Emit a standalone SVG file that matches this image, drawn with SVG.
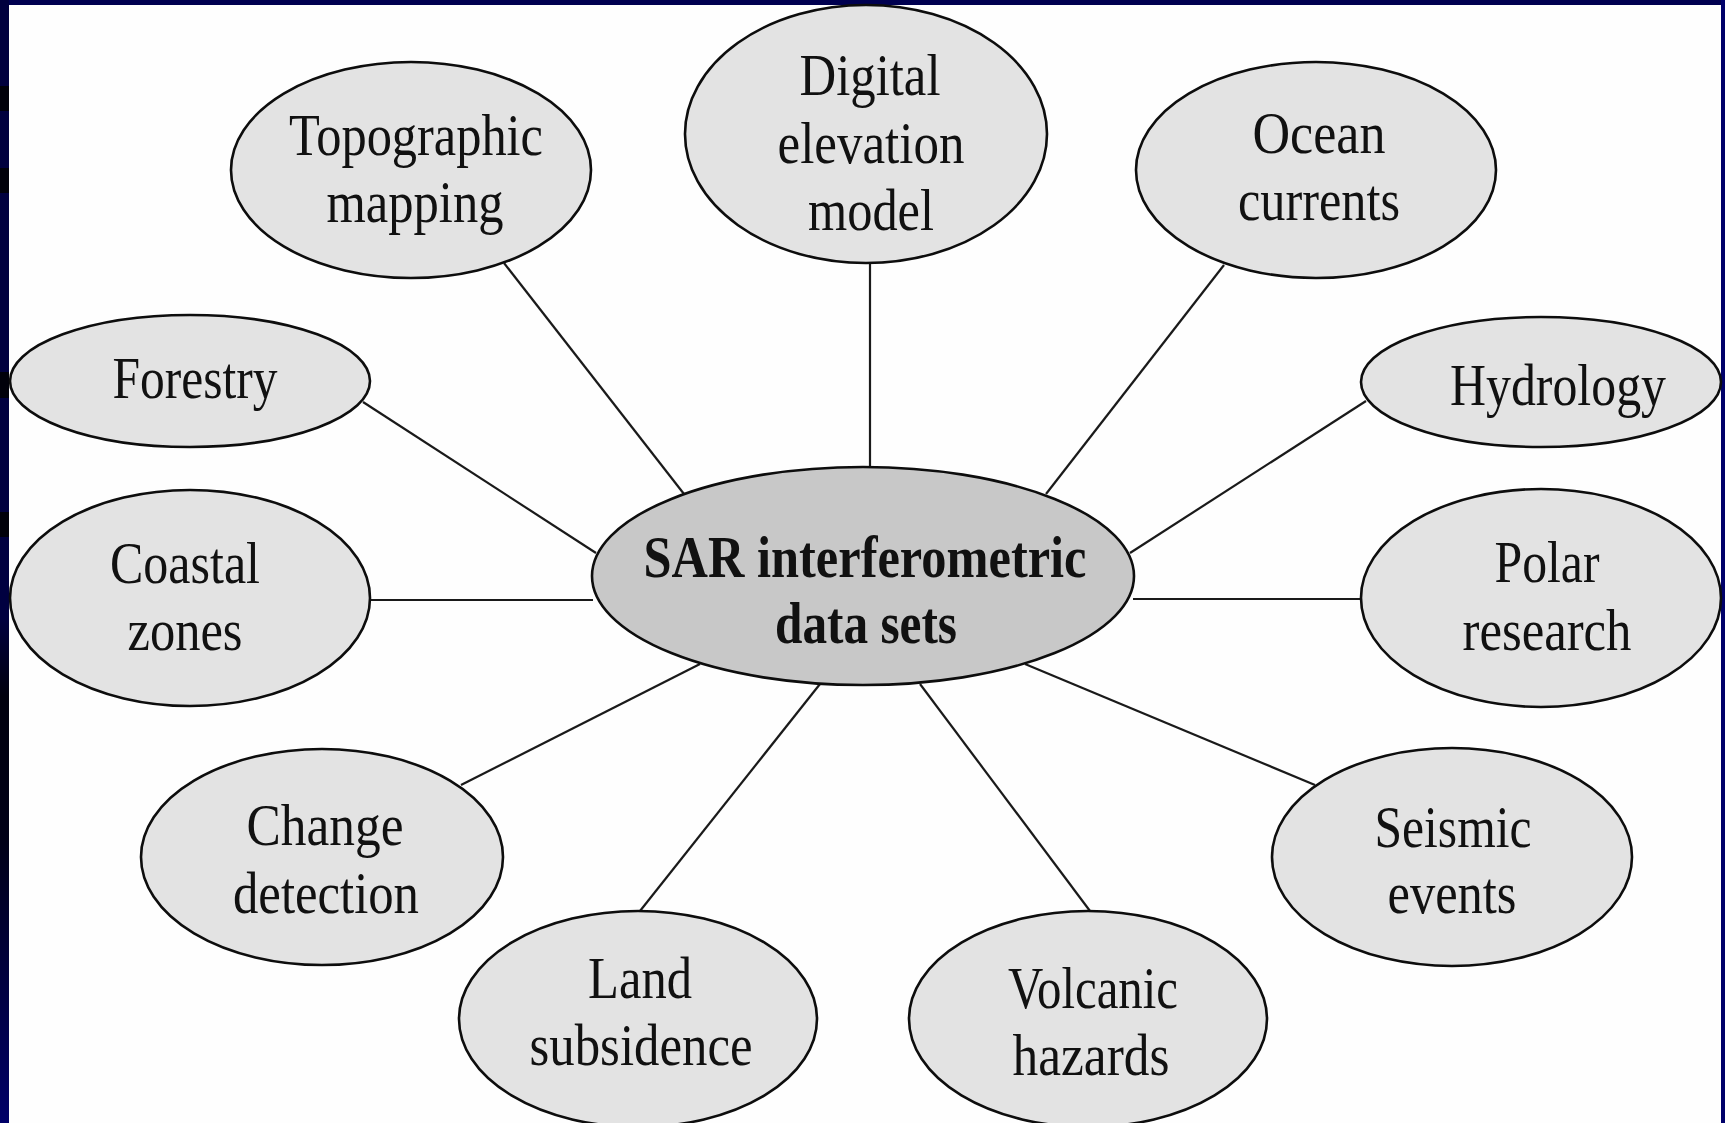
<svg xmlns="http://www.w3.org/2000/svg" width="1725" height="1123" viewBox="0 0 1725 1123">
  <defs>
    <style>
      .node { fill: #e3e3e3; stroke: #0d0d0d; stroke-width: 2.6; }
      .hub { fill: #c8c8c8; stroke: #0d0d0d; stroke-width: 2.6; }
      .lbl { font-family: "Liberation Serif", "Times New Roman", serif; font-size: 59px; fill: #111; text-anchor: middle; }
      .hubl { font-family: "Liberation Serif", "Times New Roman", serif; font-size: 59px; font-weight: bold; fill: #111; text-anchor: middle; }
      .conn line { stroke: #1a1a1a; stroke-width: 2.2; }
    </style>
    <linearGradient id="leftbar" x1="0" y1="0" x2="0" y2="1">
      <stop offset="0" stop-color="#00003e"/>
      <stop offset="0.55" stop-color="#000040"/>
      <stop offset="0.62" stop-color="#00000e"/>
      <stop offset="0.75" stop-color="#000018"/>
      <stop offset="1" stop-color="#000068"/>
    </linearGradient>
  </defs>

  <rect x="0" y="0" width="1725" height="1123" fill="#fefefe"/>
  <!-- frame -->
  <rect x="0" y="0" width="1725" height="5" fill="#000050"/>
  <rect x="0" y="0" width="9" height="1123" fill="url(#leftbar)"/>
  <rect x="0" y="86" width="9" height="25" fill="#00000a"/>
  <rect x="0" y="168" width="9" height="25" fill="#00000a"/>
  <rect x="0" y="372" width="9" height="26" fill="#00000a"/>
  <rect x="0" y="512" width="9" height="25" fill="#00000a"/>
  <rect x="1721" y="0" width="4" height="1123" fill="#00006a"/>

  <g id="connectors" class="conn">
    <line x1="504" y1="263" x2="684" y2="494"/>
    <line x1="870" y1="263" x2="870" y2="467"/>
    <line x1="1224" y1="265" x2="1046" y2="494"/>
    <line x1="363" y1="402" x2="596" y2="553"/>
    <line x1="1366" y1="401" x2="1130" y2="553"/>
    <line x1="369" y1="600" x2="593" y2="600"/>
    <line x1="1133" y1="599" x2="1360" y2="599"/>
    <line x1="461" y1="785" x2="700" y2="664"/>
    <line x1="640" y1="911" x2="820" y2="684"/>
    <line x1="1090" y1="911" x2="920" y2="684"/>
    <line x1="1315" y1="785" x2="1025" y2="664"/>
  </g>

  <g id="node-topographic">
    <ellipse class="node" cx="411" cy="170" rx="180" ry="108"/>
    <text class="lbl" x="416" y="155" textLength="254" lengthAdjust="spacingAndGlyphs">Topographic</text>
    <text class="lbl" x="415" y="222" textLength="177" lengthAdjust="spacingAndGlyphs">mapping</text>
  </g>
  <g id="node-dem">
    <ellipse class="node" cx="866" cy="134" rx="181" ry="129"/>
    <text class="lbl" x="870" y="95" textLength="141" lengthAdjust="spacingAndGlyphs">Digital</text>
    <text class="lbl" x="871" y="163" textLength="187" lengthAdjust="spacingAndGlyphs">elevation</text>
    <text class="lbl" x="871" y="230" textLength="126" lengthAdjust="spacingAndGlyphs">model</text>
  </g>
  <g id="node-ocean">
    <ellipse class="node" cx="1316" cy="170" rx="180" ry="108"/>
    <text class="lbl" x="1319" y="153" textLength="133" lengthAdjust="spacingAndGlyphs">Ocean</text>
    <text class="lbl" x="1319" y="220" textLength="162" lengthAdjust="spacingAndGlyphs">currents</text>
  </g>
  <g id="node-forestry">
    <ellipse class="node" cx="190" cy="381" rx="180" ry="66"/>
    <text class="lbl" x="195" y="398" textLength="165" lengthAdjust="spacingAndGlyphs">Forestry</text>
  </g>
  <g id="node-hydrology">
    <ellipse class="node" cx="1541" cy="382" rx="180" ry="65"/>
    <text class="lbl" x="1558" y="405" textLength="216" lengthAdjust="spacingAndGlyphs">Hydrology</text>
  </g>
  <g id="node-coastal">
    <ellipse class="node" cx="190" cy="598" rx="180" ry="108"/>
    <text class="lbl" x="185" y="583" textLength="150" lengthAdjust="spacingAndGlyphs">Coastal</text>
    <text class="lbl" x="185" y="650" textLength="115" lengthAdjust="spacingAndGlyphs">zones</text>
  </g>
  <g id="node-polar">
    <ellipse class="node" cx="1541" cy="598" rx="180" ry="109"/>
    <text class="lbl" x="1547" y="582" textLength="105" lengthAdjust="spacingAndGlyphs">Polar</text>
    <text class="lbl" x="1547" y="650" textLength="169" lengthAdjust="spacingAndGlyphs">research</text>
  </g>
  <g id="node-hub">
    <ellipse class="hub" cx="863" cy="576" rx="271" ry="109"/>
    <text class="hubl" x="865" y="577" textLength="443" lengthAdjust="spacingAndGlyphs">SAR interferometric</text>
    <text class="hubl" x="866" y="643" textLength="182" lengthAdjust="spacingAndGlyphs">data sets</text>
  </g>
  <g id="node-change">
    <ellipse class="node" cx="322" cy="857" rx="181" ry="108"/>
    <text class="lbl" x="325" y="845" textLength="157" lengthAdjust="spacingAndGlyphs">Change</text>
    <text class="lbl" x="326" y="913" textLength="186" lengthAdjust="spacingAndGlyphs">detection</text>
  </g>
  <g id="node-seismic">
    <ellipse class="node" cx="1452" cy="857" rx="180" ry="109"/>
    <text class="lbl" x="1453" y="847" textLength="157" lengthAdjust="spacingAndGlyphs">Seismic</text>
    <text class="lbl" x="1452" y="913" textLength="129" lengthAdjust="spacingAndGlyphs">events</text>
  </g>
  <g id="node-land">
    <ellipse class="node" cx="638" cy="1019" rx="179" ry="108"/>
    <text class="lbl" x="640" y="998" textLength="104" lengthAdjust="spacingAndGlyphs">Land</text>
    <text class="lbl" x="641" y="1065" textLength="223" lengthAdjust="spacingAndGlyphs">subsidence</text>
  </g>
  <g id="node-volcanic">
    <ellipse class="node" cx="1088" cy="1019" rx="179" ry="108"/>
    <text class="lbl" x="1093" y="1008" textLength="170" lengthAdjust="spacingAndGlyphs">Volcanic</text>
    <text class="lbl" x="1091" y="1075" textLength="157" lengthAdjust="spacingAndGlyphs">hazards</text>
  </g>
</svg>
